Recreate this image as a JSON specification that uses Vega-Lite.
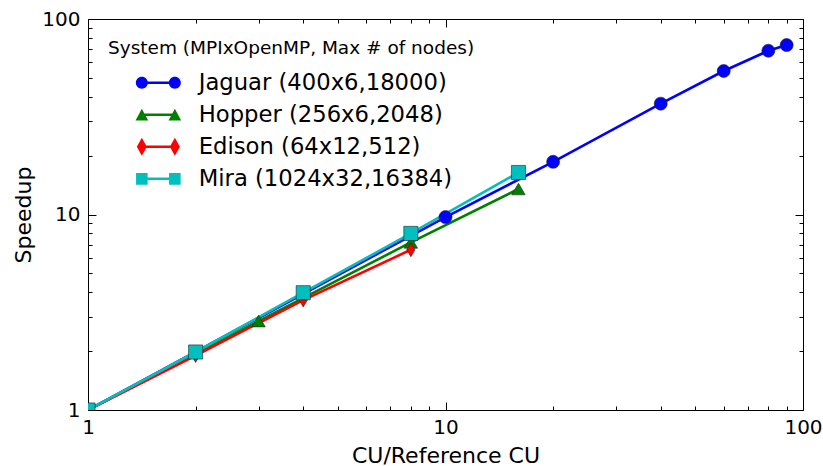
{
  "$schema": "https://vega.github.io/schema/vega-lite/v6.json",
  "width": 715,
  "height": 391,
  "autosize": "none",
  "padding": {"left": 88, "top": 19, "right": 20, "bottom": 56},
  "background": "white",
  "config": {
    "font": "DejaVu Sans",
    "view": {"stroke": "#000", "strokeWidth": 1},
    "axis": {"grid": false, "domain": false, "tickColor": "#000", "tickWidth": 1, "labelColor": "#000", "titleColor": "#000", "labelFont": "DejaVu Sans", "titleFont": "DejaVu Sans", "titleFontWeight": "normal"}
  },
  "data": {
    "values": [
      {"system": "Jaguar (400x6,18000)", "cu": 1, "speedup": 1},
      {"system": "Jaguar (400x6,18000)", "cu": 10, "speedup": 9.7},
      {"system": "Jaguar (400x6,18000)", "cu": 20, "speedup": 18.6},
      {"system": "Jaguar (400x6,18000)", "cu": 40, "speedup": 36.9},
      {"system": "Jaguar (400x6,18000)", "cu": 60, "speedup": 54.2},
      {"system": "Jaguar (400x6,18000)", "cu": 80, "speedup": 68.8},
      {"system": "Jaguar (400x6,18000)", "cu": 90, "speedup": 73.6},
      {"system": "Hopper (256x6,2048)", "cu": 1, "speedup": 1},
      {"system": "Hopper (256x6,2048)", "cu": 3, "speedup": 2.85},
      {"system": "Hopper (256x6,2048)", "cu": 8, "speedup": 7.2},
      {"system": "Hopper (256x6,2048)", "cu": 16, "speedup": 13.5},
      {"system": "Edison (64x12,512)", "cu": 1, "speedup": 1},
      {"system": "Edison (64x12,512)", "cu": 2, "speedup": 1.9},
      {"system": "Edison (64x12,512)", "cu": 4, "speedup": 3.65},
      {"system": "Edison (64x12,512)", "cu": 8, "speedup": 6.6},
      {"system": "Mira (1024x32,16384)", "cu": 1, "speedup": 1},
      {"system": "Mira (1024x32,16384)", "cu": 2, "speedup": 1.98},
      {"system": "Mira (1024x32,16384)", "cu": 4, "speedup": 3.98},
      {"system": "Mira (1024x32,16384)", "cu": 8, "speedup": 8.0},
      {"system": "Mira (1024x32,16384)", "cu": 16, "speedup": 16.4}
    ]
  },
  "resolve": {
    "scale": {"shape": "independent", "color": "independent", "size": "independent"},
    "axis": {"x": "independent", "y": "independent"}
  },
  "layer": [
    {
      "mark": {"type": "line", "strokeWidth": 2.6, "clip": true},
      "encoding": {
        "x": {"field": "cu", "type": "quantitative",
          "scale": {"type": "log", "domain": [1, 100], "nice": false},
          "axis": {"orient": "bottom", "title": "CU/Reference CU", "titleFontSize": 22, "titlePadding": 8, "labelFontSize": 20, "labelPadding": 7, "ticks": false, "values": [1, 10, 100], "labelFlush": false, "labelOverlap": false, "format": "d"}},
        "y": {"field": "speedup", "type": "quantitative",
          "scale": {"type": "log", "domain": [1, 100], "nice": false},
          "axis": {"orient": "left", "title": "Speedup", "titleFontSize": 22, "titlePadding": 6, "labelFontSize": 20, "labelPadding": 8, "ticks": false, "values": [1, 10, 100], "labelFlush": false, "labelOverlap": false, "format": "d"}},
        "color": {"field": "system", "type": "nominal", "legend": null,
          "scale": {"domain": ["Jaguar (400x6,18000)", "Hopper (256x6,2048)", "Edison (64x12,512)", "Mira (1024x32,16384)"], "range": ["#0000ff", "#008000", "#ff0000", "#00bfbf"]}},
        "order": {"field": "cu", "type": "quantitative"}
      }
    },
    {
      "mark": {"type": "point", "filled": true, "opacity": 1, "stroke": "#222", "strokeWidth": 0.6, "clip": true},
      "encoding": {
        "x": {"field": "cu", "type": "quantitative", "scale": {"type": "log", "domain": [1, 100], "nice": false}, "axis": null},
        "y": {"field": "speedup", "type": "quantitative", "scale": {"type": "log", "domain": [1, 100], "nice": false}, "axis": null},
        "color": {"field": "system", "type": "nominal", "legend": null,
          "scale": {"domain": ["Jaguar (400x6,18000)", "Hopper (256x6,2048)", "Edison (64x12,512)", "Mira (1024x32,16384)"], "range": ["#0000ff", "#008000", "#ff0000", "#00bfbf"]}},
        "shape": {"field": "system", "type": "nominal", "legend": null,
          "scale": {"domain": ["Jaguar (400x6,18000)", "Hopper (256x6,2048)", "Edison (64x12,512)", "Mira (1024x32,16384)"], "range": ["circle", "triangle-up", "M0,-1 L0.6,0 L0,1 L-0.6,0 Z", "square"]}},
        "size": {"field": "system", "type": "nominal", "legend": null,
          "scale": {"domain": ["Jaguar (400x6,18000)", "Hopper (256x6,2048)", "Edison (64x12,512)", "Mira (1024x32,16384)"], "range": [170, 200, 324, 170]}}
      }
    },
    {
      "mark": {"type": "point", "filled": true, "opacity": 1, "clip": true},
      "encoding": {
        "x": {"field": "cu", "type": "quantitative", "scale": {"type": "log", "domain": [1, 100], "nice": false}, "axis": null},
        "y": {"datum": 100000, "type": "quantitative", "scale": {"type": "log", "domain": [1, 100], "nice": false}, "axis": null},
        "color": {"field": "system", "type": "nominal", "title": "System (MPIxOpenMP, Max # of nodes)",
          "scale": {"domain": ["Jaguar (400x6,18000)", "Hopper (256x6,2048)", "Edison (64x12,512)", "Mira (1024x32,16384)"], "range": ["#0000ff", "#008000", "#ff0000", "#00bfbf"]},
          "legend": {"orient": "top-left", "offset": 20, "padding": 0, "symbolSize": 484, "symbolOpacity": 1, "symbolStrokeWidth": 0, "titleFontSize": 18.5, "titleFont": "DejaVu Sans", "titleFontWeight": "normal", "titleColor": "#000", "titleLimit": 600, "labelFontSize": 22.7, "labelFont": "DejaVu Sans", "labelColor": "#000", "labelOffset": 68, "labelLimit": 400, "titlePadding": 14, "rowPadding": 8}},
        "shape": {"field": "system", "type": "nominal", "title": "System (MPIxOpenMP, Max # of nodes)",
          "scale": {"domain": ["Jaguar (400x6,18000)", "Hopper (256x6,2048)", "Edison (64x12,512)", "Mira (1024x32,16384)"],
            "range": [
              "M1.5,0 A0.545,0.545 0 1,1 2.59,0 A0.545,0.545 0 1,1 1.5,0 Z M4.5,0 A0.545,0.545 0 1,1 5.59,0 A0.545,0.545 0 1,1 4.5,0 Z M2.045,-0.114 L5.045,-0.114 L5.045,0.114 L2.045,0.114 Z",
              "M1.47,0.52 L2.045,-0.55 L2.62,0.52 Z M4.47,0.52 L5.045,-0.55 L5.62,0.52 Z M2.045,-0.114 L5.045,-0.114 L5.045,0.114 L2.045,0.114 Z",
              "M2.045,-0.818 L2.5,0 L2.045,0.818 L1.59,0 Z M5.045,-0.818 L5.5,0 L5.045,0.818 L4.59,0 Z M2.045,-0.114 L5.045,-0.114 L5.045,0.114 L2.045,0.114 Z",
              "M1.52,-0.525 L2.57,-0.525 L2.57,0.525 L1.52,0.525 Z M4.52,-0.525 L5.57,-0.525 L5.57,0.525 L4.52,0.525 Z M2.045,-0.114 L5.045,-0.114 L5.045,0.114 L2.045,0.114 Z"
            ]}}
      }
    },
    {
      "mark": {"type": "point", "opacity": 0},
      "encoding": {
        "x": {"field": "cu", "type": "quantitative", "scale": {"type": "log", "domain": [1, 100], "nice": false},
          "axis": {"orient": "top", "offset": -391, "title": null, "labels": false, "tickCount": 20,
            "tickSize": {"condition": {"test": "datum.value == 1 || datum.value == 10 || datum.value == 100", "value": 8}, "value": 4}}},
        "y": {"field": "speedup", "type": "quantitative", "scale": {"type": "log", "domain": [1, 100], "nice": false},
          "axis": {"orient": "right", "offset": -715, "title": null, "labels": false, "tickCount": 20,
            "tickSize": {"condition": {"test": "datum.value == 1 || datum.value == 10 || datum.value == 100", "value": 8}, "value": 4}}}
      }
    },
    {
      "mark": {"type": "point", "opacity": 0},
      "encoding": {
        "x": {"field": "cu", "type": "quantitative", "scale": {"type": "log", "domain": [1, 100], "nice": false},
          "axis": {"orient": "bottom", "offset": -391, "title": null, "labels": false, "tickCount": 20,
            "tickSize": {"condition": {"test": "datum.value == 1 || datum.value == 10 || datum.value == 100", "value": 8}, "value": 4}}},
        "y": {"field": "speedup", "type": "quantitative", "scale": {"type": "log", "domain": [1, 100], "nice": false},
          "axis": {"orient": "left", "offset": -715, "title": null, "labels": false, "tickCount": 20,
            "tickSize": {"condition": {"test": "datum.value == 1 || datum.value == 10 || datum.value == 100", "value": 8}, "value": 4}}}
      }
    }
  ]
}
